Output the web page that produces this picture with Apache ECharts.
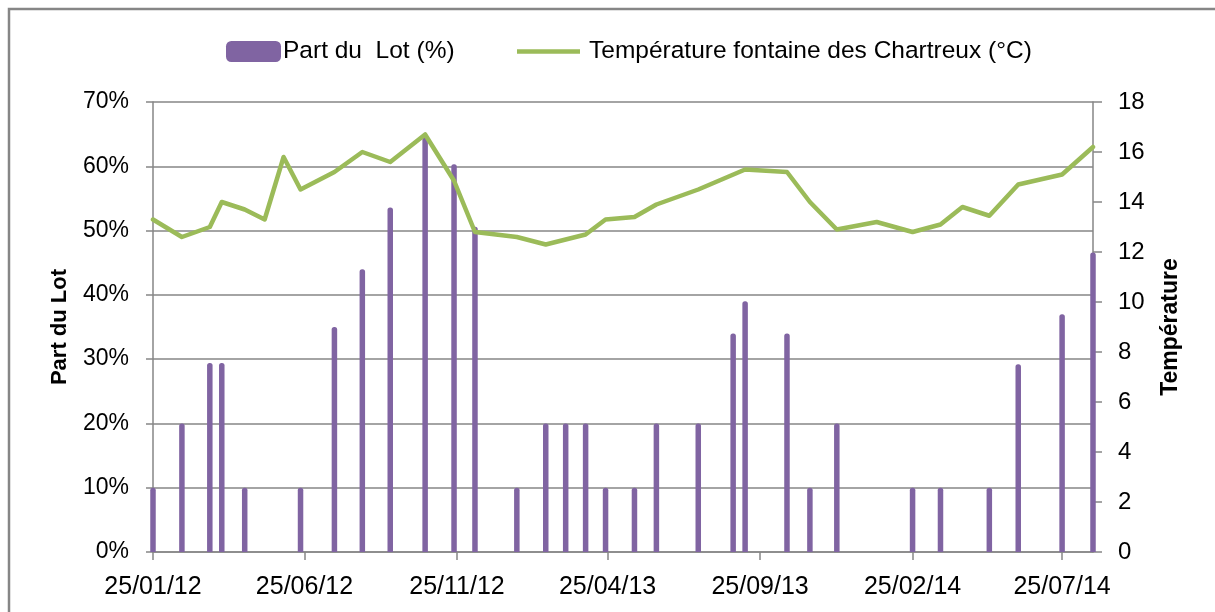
<!DOCTYPE html>
<html>
<head>
<meta charset="utf-8">
<script src="https://cdn.jsdelivr.net/npm/echarts@6/dist/echarts.min.js"></script>
<style>
  html, body { margin: 0; padding: 0; background: #fff; }
  #chart { width: 1215px; height: 612px; }
</style>
</head>
<body>
<div id="chart"></div>
<script>
// sampling dates (one row per measurement)
var dates = ['2012-01-25', '2012-02-23', '2012-03-22', '2012-04-03', '2012-04-26', '2012-05-16',
  '2012-06-04', '2012-06-21', '2012-07-25', '2012-08-22', '2012-09-19', '2012-10-24',
  '2012-11-22', '2012-12-13', '2013-01-24', '2013-02-22', '2013-03-14', '2013-04-03',
  '2013-04-23', '2013-05-22', '2013-06-13', '2013-07-25', '2013-08-29', '2013-09-10',
  '2013-10-22', '2013-11-14', '2013-12-11', '2014-01-20', '2014-02-25', '2014-03-25',
  '2014-04-16', '2014-05-13', '2014-06-11', '2014-07-25', '2014-08-25'];

// Part du Lot (%)
var lotShare = [10, 20, 29.4, 29.4, 10, null, null, 10, 35, 44, 53.6, 64.5,
  60.3, 50.6, 10, 20, 20, 20, 10, 10, 20, 20, 34, 39,
  34, 10, 20, null, 10, 10, null, 10, 29.2, 37, 46.6];

// Température fontaine des Chartreux (°C)
var temperature = [13.3, 12.6, 13.0, 14.0, 13.7, 13.3, 15.8, 14.5, 15.2, 16.0, 15.6, 16.7,
  14.85, 12.8, 12.6, 12.3, null, 12.7, 13.3, 13.4, 13.9, 14.5, null, 15.3,
  15.2, 14.0, 12.9, 13.2, 12.8, 13.1, 13.8, 13.45, 14.7, 15.1, 16.2];

// x tick labels (every 5 months)
var xTicks = ['2012-01-25', '2012-06-25', '2012-11-25', '2013-04-25', '2013-09-25', '2014-02-25', '2014-07-25'];

var xMin = '2012-01-25';
var xMax = '2014-08-25';

// dates -> day number (UTC based, no DST drift)
function toDay(s) {
  var p = s.split('-');
  return Date.UTC(+p[0], +p[1] - 1, +p[2]) / 86400000;
}
function pad(n) { return (n < 10 ? '0' : '') + n; }
function fmtDay(v) {
  var d = new Date(Math.round(v) * 86400000);
  return pad(d.getUTCDate()) + '/' + pad(d.getUTCMonth() + 1) + '/' + pad(d.getUTCFullYear() % 100);
}

var FONT = '"Liberation Sans", Arial, sans-serif';
var GREY = '#868686';

var chart = echarts.init(document.getElementById('chart'), null, { renderer: 'canvas' });

var option = {
  animation: false,
  backgroundColor: '#ffffff',
  textStyle: { fontFamily: FONT, color: '#000' },
  graphic: [{
    type: 'rect',
    shape: { x: 9, y: 9, width: 1215, height: 620 },
    style: { fill: 'none', stroke: GREY, lineWidth: 2.5 },
    silent: true
  }],
  legend: [{
    data: ['Part du  Lot (%)'],
    left: 226,
    top: 39,
    padding: 0,
    itemWidth: 55,
    itemHeight: 21,
    itemGap: 4,
    icon: 'roundRect',
    textStyle: { fontFamily: FONT, fontSize: 24.5, color: '#000', padding: [0, 0, 0, -3] }
  }, {
    data: ['Température fontaine des Chartreux (°C)'],
    left: 517,
    top: 39,
    padding: 0,
    itemWidth: 63,
    itemHeight: 4.5,
    icon: 'rect',
    textStyle: { fontFamily: FONT, fontSize: 24.5, color: '#000', padding: [0, 0, 0, 4] }
  }],
  grid: {
    left: 153,
    right: 122,
    top: 102,
    bottom: 60,
    containLabel: false
  },
  xAxis: {
    type: 'value',
    min: toDay(xMin),
    max: toDay(xMax),
    axisLine: { show: true, onZero: false, lineStyle: { color: GREY, width: 1.5 } },
    axisTick: {
      show: true,
      length: 8,
      customValues: xTicks.map(toDay),
      lineStyle: { color: GREY, width: 1.5 }
    },
    axisLabel: {
      customValues: xTicks.map(toDay),
      formatter: function (v) { return fmtDay(v); },
      fontFamily: FONT,
      fontSize: 25,
      color: '#000',
      margin: 23,
      showMinLabel: true,
      showMaxLabel: true
    },
    splitLine: { show: false }
  },
  yAxis: [{
    type: 'value',
    min: 0,
    max: 70,
    interval: 10,
    name: 'Part du Lot',
    nameLocation: 'middle',
    nameRotate: 90,
    nameGap: 82,
    nameTextStyle: { fontFamily: FONT, fontSize: 22, fontWeight: 'bold', color: '#000' },
    axisLine: { show: true, lineStyle: { color: GREY, width: 1.5 } },
    axisTick: { show: true, length: 7, lineStyle: { color: GREY, width: 1.5 } },
    axisLabel: {
      formatter: '{value}%',
      fontFamily: FONT,
      fontSize: 23,
      color: '#000',
      margin: 24
    },
    splitLine: { show: true, lineStyle: { color: GREY, width: 1.5 } }
  }, {
    type: 'value',
    min: 0,
    max: 18,
    interval: 2,
    position: 'right',
    name: 'Température',
    nameLocation: 'middle',
    nameRotate: 90,
    nameGap: 66,
    nameTextStyle: { fontFamily: FONT, fontSize: 23, fontWeight: 'bold', color: '#000' },
    axisLine: { show: true, lineStyle: { color: GREY, width: 1.5 } },
    axisTick: { show: true, length: 9, lineStyle: { color: GREY, width: 1.5 } },
    axisLabel: {
      fontFamily: FONT,
      fontSize: 24,
      color: '#000',
      margin: 25
    },
    splitLine: { show: false }
  }],
  series: [{
    name: 'Part du  Lot (%)',
    type: 'bar',
    yAxisIndex: 0,
    barWidth: 5.5,
    clip: true,
    itemStyle: { color: '#8064A2', borderRadius: [2.5, 2.5, 0, 0] },
    data: dates.map(function (d, i) { return [toDay(d), lotShare[i]]; })
  }, {
    name: 'Température fontaine des Chartreux (°C)',
    type: 'line',
    yAxisIndex: 1,
    symbol: 'none',
    connectNulls: true,
    lineStyle: { color: '#9BBB59', width: 4.5, join: 'round', cap: 'round' },
    itemStyle: { color: '#9BBB59' },
    data: dates.map(function (d, i) { return [toDay(d), temperature[i]]; })
  }]
};

chart.setOption(option);
</script>
</body>
</html>
